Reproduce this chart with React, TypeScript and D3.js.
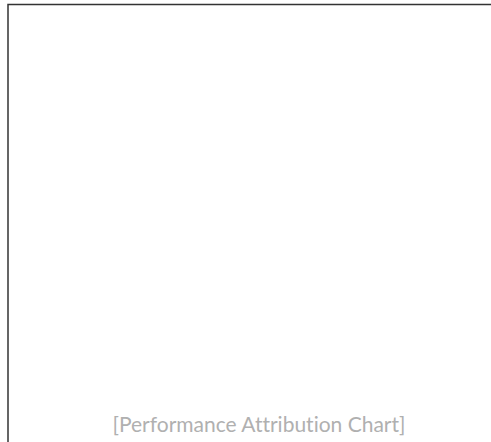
import { useEffect, useRef } from "react";
import { select } from "d3";

const width = 491;
const height = 442;
const placeholderLabel = "[Performance Attribution Chart]";

export default function App() {
    const svgRef = useRef<SVGSVGElement>(null);

    useEffect(() => {
        const svg = select(svgRef.current);
        svg.selectAll("*").remove();

        // frame, running off the right and bottom edges
        svg.append("rect")
            .attr("x", 8)
            .attr("y", 4.5)
            .attr("width", 700)
            .attr("height", 700)
            .attr("fill", "#fff")
            .attr("stroke", "#333")
            .attr("stroke-width", 1.5);

        // placeholder text
        svg.append("text")
            .attr("x", 259)
            .attr("y", 432)
            .attr("text-anchor", "middle")
            .attr("fill", "#b0b0b0")
            .style("font-family", "Lato, sans-serif")
            .style("font-size", "21px")
            .style("font-variant-ligatures", "none")
            .style("font-feature-settings", "'liga' 0, 'clig' 0, 'dlig' 0")
            .text(placeholderLabel);
    }, []);

    return (
        <div style={{ position: "absolute", left: 0, top: 0, width, height, overflow: "hidden", background: "#fff" }}>
            <svg ref={svgRef} width={width} height={height}></svg>
        </div>
    );
}
